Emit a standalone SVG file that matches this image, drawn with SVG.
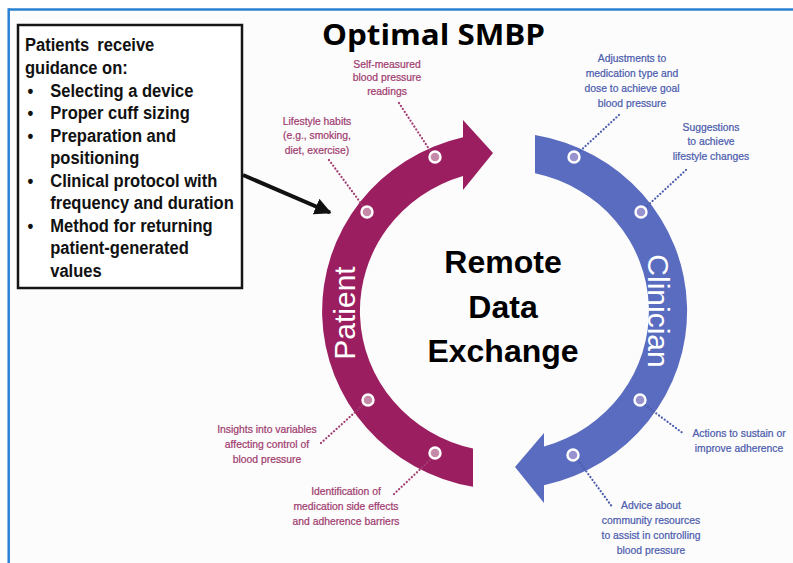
<svg xmlns="http://www.w3.org/2000/svg" width="793" height="563" viewBox="0 0 793 563">
  <defs>
    <style>
      .frame { stroke: #2a80d2; stroke-width: 2.5; fill: none; }
      .box { fill: #ffffff; stroke: #151515; stroke-width: 2.5; }
      .boxtxt { font-family: "Liberation Sans", Arial, sans-serif; font-weight: bold; font-size: 19px; fill: #111; }
      .title { font-family: "Open Sans", "Liberation Sans", sans-serif; font-weight: bold; font-size: 28px; fill: #000; }
      .center { font-family: "Liberation Sans", Arial, sans-serif; font-weight: bold; font-size: 32px; fill: #000; text-anchor: middle; }
      .band { font-family: "Liberation Sans", Arial, sans-serif; font-size: 30px; fill: #ffffff; text-anchor: middle; }
      .lbl { font-family: "Liberation Sans", Arial, sans-serif; font-size: 11.5px; text-anchor: middle; stroke-width: 0.25; }
      .pt { fill: #a13d70; stroke: #a13d70; }
      .cl { fill: #4c5cae; stroke: #4c5cae; }
      .dotp { stroke: #a13d70; stroke-width: 2.2; stroke-dasharray: 0.1 3.4; stroke-linecap: round; fill: none; }
      .dotc { stroke: #4c5cae; stroke-width: 2.2; stroke-dasharray: 0.1 3.4; stroke-linecap: round; fill: none; }
      .mkp { fill: #c58aa7; stroke: #ffffff; stroke-width: 2.4; }
      .mkc { fill: #9893cf; stroke: #ffffff; stroke-width: 2.4; }
    </style>
    <marker id="head" viewBox="0 0 10 10" refX="9" refY="5" markerWidth="4.2" markerHeight="4.2" markerUnits="strokeWidth" orient="auto">
      <path d="M0,0 L10,5 L0,10 Z" fill="#111"/>
    </marker>
  </defs>

  <!-- page background and frame -->
  <rect x="9" y="10" width="784" height="553" fill="#fcfcfc"/>
  <line class="frame" x1="8.7" y1="9.5" x2="793" y2="9.5"/>
  <line class="frame" x1="8.7" y1="8.3" x2="8.7" y2="563"/>

  <!-- title -->
  <text class="title" x="322" y="45" textLength="223" lengthAdjust="spacingAndGlyphs">Optimal SMBP</text>

  <!-- guidance box -->
  <g id="guidance">
    <rect class="box" x="18" y="25" width="224" height="263"/>
    <g class="boxtxt" transform="translate(25,0) scale(0.87,1)">
      <text x="0" y="51" word-spacing="4">Patients receive</text>
      <text x="0" y="74">guidance on:</text>
      <text x="3" y="97">•</text>
      <text x="29" y="97">Selecting a device</text>
      <text x="3" y="119.5">•</text>
      <text x="29" y="119.5">Proper cuff sizing</text>
      <text x="3" y="142">•</text>
      <text x="29" y="142">Preparation and</text>
      <text x="29" y="164.5">positioning</text>
      <text x="3" y="187">•</text>
      <text x="29" y="187">Clinical protocol with</text>
      <text x="29" y="209.5">frequency and duration</text>
      <text x="3" y="232">•</text>
      <text x="29" y="232">Method for returning</text>
      <text x="29" y="254.5">patient-generated</text>
      <text x="29" y="277">values</text>
    </g>
  </g>

  <!-- patient arc with arrowhead at the top -->
  <g id="patient">
    <path fill="#9b1f60" d="M473,486.8 A182.5,178.5 0 0 1 463,137.2 L463,120 L493,153 L463,190 L463,175.9 A144.5,141 0 0 0 473,448.6 Z"/>
    <text class="band" transform="translate(355,313) rotate(-90)">Patient</text>
  </g>

  <!-- clinician arc with arrowhead at the bottom -->
  <g id="clinician">
    <path fill="#5a6cbf" d="M535,135 A182.5,178.5 0 0 1 544,485.3 L544,503 L515,467 L544,433 L544,446.6 A144.5,141 0 0 0 535,173.2 Z"/>
    <text class="band" transform="translate(648,311) rotate(90)">Clinician</text>
  </g>

  <!-- centre caption -->
  <g id="exchange">
    <text class="center" x="503" y="273">Remote</text>
    <text class="center" x="503" y="318">Data</text>
    <text class="center" x="503" y="362">Exchange</text>
  </g>

  <!-- dotted leaders and the guidance arrow -->
  <g id="connectors">
    <line x1="243" y1="175" x2="330" y2="212.5" stroke="#111" stroke-width="4" marker-end="url(#head)"/>
    <line class="dotp" x1="399" y1="103" x2="431" y2="152"/>
    <line class="dotp" x1="329" y1="160" x2="363" y2="206"/>
    <line class="dotp" x1="321" y1="443" x2="363" y2="405"/>
    <line class="dotp" x1="394" y1="494" x2="431" y2="459"/>
    <line class="dotc" x1="619" y1="115" x2="578" y2="153"/>
    <line class="dotc" x1="686" y1="170" x2="645" y2="208"/>
    <line class="dotc" x1="645" y1="405" x2="684" y2="434"/>
    <line class="dotc" x1="578" y1="460" x2="613" y2="508"/>
  </g>

  <!-- point markers on the arcs -->
  <g id="markers">
    <circle class="mkp" cx="435" cy="157" r="5.5"/>
    <circle class="mkp" cx="367" cy="212" r="5.5"/>
    <circle class="mkp" cx="368" cy="400" r="5.5"/>
    <circle class="mkp" cx="435" cy="453" r="5.5"/>
    <circle class="mkc" cx="574" cy="157" r="5.5"/>
    <circle class="mkc" cx="641" cy="212" r="5.5"/>
    <circle class="mkc" cx="640" cy="400" r="5.5"/>
    <circle class="mkc" cx="573" cy="455" r="5.5"/>
  </g>

  <!-- patient-side labels -->
  <g id="lbl-readings">
    <text class="lbl pt" transform="translate(387,0) scale(0.9,1)"><tspan x="0" y="68">Self-measured</tspan><tspan x="0" y="81.5">blood pressure</tspan><tspan x="0" y="95">readings</tspan></text>
  </g>
  <g id="lbl-lifestyle">
    <text class="lbl pt" transform="translate(317,0) scale(0.9,1)"><tspan x="0" y="125">Lifestyle habits</tspan><tspan x="0" y="139.5">(e.g., smoking,</tspan><tspan x="0" y="154">diet, exercise)</tspan></text>
  </g>
  <g id="lbl-insights">
    <text class="lbl pt" transform="translate(267,0) scale(0.9,1)"><tspan x="0" y="433">Insights into variables</tspan><tspan x="0" y="448">affecting control of</tspan><tspan x="0" y="463">blood pressure</tspan></text>
  </g>
  <g id="lbl-sideeffects">
    <text class="lbl pt" transform="translate(346,0) scale(0.9,1)"><tspan x="0" y="495">Identification of</tspan><tspan x="0" y="510">medication side effects</tspan><tspan x="0" y="525">and adherence barriers</tspan></text>
  </g>

  <!-- clinician-side labels -->
  <g id="lbl-adjust">
    <text class="lbl cl" transform="translate(632,0) scale(0.9,1)"><tspan x="0" y="62">Adjustments to</tspan><tspan x="0" y="77">medication type and</tspan><tspan x="0" y="92">dose to achieve goal</tspan><tspan x="0" y="107">blood pressure</tspan></text>
  </g>
  <g id="lbl-suggest">
    <text class="lbl cl" transform="translate(711,0) scale(0.9,1)"><tspan x="0" y="131">Suggestions</tspan><tspan x="0" y="145.5">to achieve</tspan><tspan x="0" y="160">lifestyle changes</tspan></text>
  </g>
  <g id="lbl-actions">
    <text class="lbl cl" transform="translate(739,0) scale(0.9,1)"><tspan x="0" y="437">Actions to sustain or</tspan><tspan x="0" y="452">improve adherence</tspan></text>
  </g>
  <g id="lbl-advice">
    <text class="lbl cl" transform="translate(651,0) scale(0.9,1)"><tspan x="0" y="509">Advice about</tspan><tspan x="0" y="524">community resources</tspan><tspan x="0" y="539">to assist in controlling</tspan><tspan x="0" y="554">blood pressure</tspan></text>
  </g>
</svg>
